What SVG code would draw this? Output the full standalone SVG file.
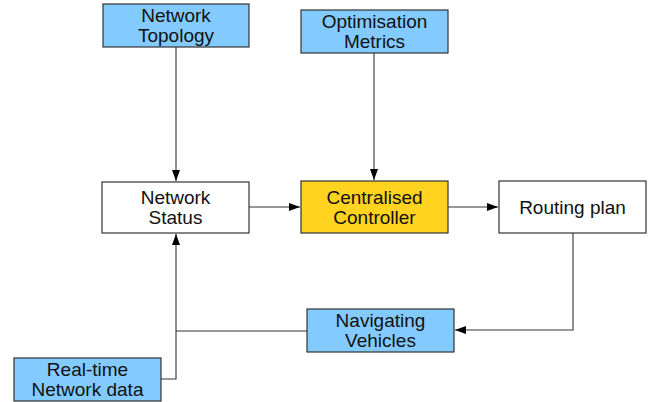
<svg xmlns="http://www.w3.org/2000/svg" width="651" height="402" viewBox="0 0 651 402">
  <defs>
    <marker id="arrow" markerUnits="userSpaceOnUse" markerWidth="12" markerHeight="10" refX="11" refY="5" orient="auto">
      <path d="M0,1 L11,5 L0,9 Z" fill="#000"/>
    </marker>
  </defs>
  <style>
    .box { stroke: #333; stroke-width: 1.2; }
    .blue { fill: #83caff; }
    .white { fill: #fff; }
    .yellow { fill: #ffd320; }
    .label { font-family: "Liberation Sans", Arial, sans-serif; font-size: 19px; fill: #111; text-anchor: middle; }
    .conn { fill: none; stroke: #333; stroke-width: 1.1; }
  </style>
  <rect width="651" height="402" fill="#fff"/>

  <g id="connectors">
    <path class="conn" d="M176,47 V181" marker-end="url(#arrow)"/>
    <path class="conn" d="M374,53 V180" marker-end="url(#arrow)"/>
    <path class="conn" d="M249,207 H300" marker-end="url(#arrow)"/>
    <path class="conn" d="M448,207 H498" marker-end="url(#arrow)"/>
    <path class="conn" d="M573,233 V330 H455" marker-end="url(#arrow)"/>
    <path class="conn" d="M307,331 H176"/>
    <path class="conn" d="M161,379 H176 V234" marker-end="url(#arrow)"/>
  </g>

  <g id="network-topology">
    <rect class="box blue" x="103" y="4" width="146" height="43"/>
    <text class="label" x="176" y="22">Network</text>
    <text class="label" x="176" y="42">Topology</text>
  </g>

  <g id="optimisation-metrics">
    <rect class="box blue" x="301" y="10" width="147" height="43"/>
    <text class="label" x="374.5" y="28">Optimisation</text>
    <text class="label" x="374.5" y="48">Metrics</text>
  </g>

  <g id="network-status">
    <rect class="box white" x="102" y="182" width="147" height="51"/>
    <text class="label" x="175.5" y="204">Network</text>
    <text class="label" x="175.5" y="224">Status</text>
  </g>

  <g id="centralised-controller">
    <rect class="box yellow" x="301" y="181" width="147" height="52"/>
    <text class="label" x="374.5" y="203.5">Centralised</text>
    <text class="label" x="374.5" y="223.5">Controller</text>
  </g>

  <g id="routing-plan">
    <rect class="box white" x="499" y="181" width="147" height="52"/>
    <text class="label" x="572.5" y="214">Routing plan</text>
  </g>

  <g id="navigating-vehicles">
    <rect class="box blue" x="307" y="309" width="147" height="43"/>
    <text class="label" x="380.5" y="327">Navigating</text>
    <text class="label" x="380.5" y="347">Vehicles</text>
  </g>

  <g id="realtime-network-data">
    <rect class="box blue" x="14" y="358" width="147" height="43"/>
    <text class="label" x="87.5" y="376">Real-time</text>
    <text class="label" x="87.5" y="396">Network data</text>
  </g>
</svg>
